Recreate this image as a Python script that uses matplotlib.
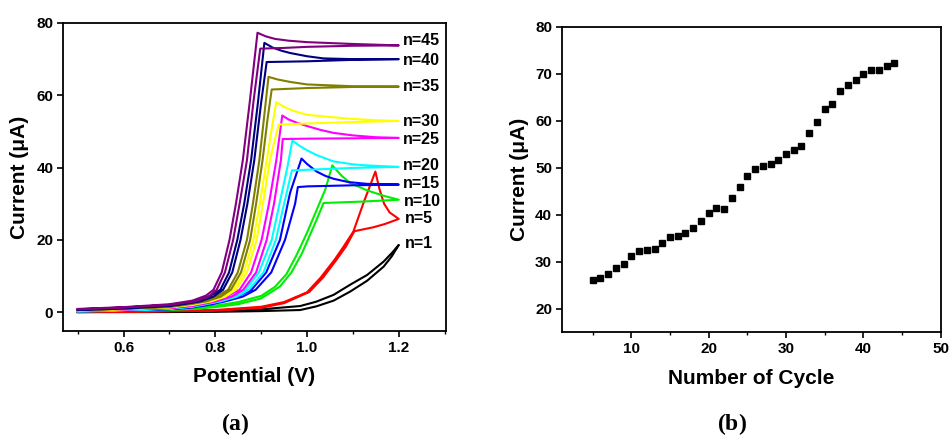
import numpy as np
import matplotlib.pyplot as plt

plt.rcParams['font.family'] = ['Liberation Sans', 'DejaVu Sans']
plt.rcParams['font.weight'] = 'bold'
plt.rcParams['mathtext.fontset'] = 'custom'
plt.rcParams['mathtext.rm'] = 'Liberation Serif'
plt.rcParams['mathtext.bf'] = 'Liberation Serif:bold'

# cyclic voltammograms, (potential V, current uA); fwd = anodic sweep, rev = return sweep
n1_fwd = [(0.50, 0.0), (0.70, 0.05), (0.80, 0.1), (0.90, 0.3), (0.985, 0.6), (1.02, 1.6),
          (1.058, 3.2), (1.094, 5.7), (1.131, 8.7), (1.167, 12.6), (1.185, 15.5), (1.20, 18.6)]
n1_rev = [(1.20, 18.6), (1.185, 16.4), (1.167, 14.0), (1.131, 10.3), (1.094, 7.6), (1.058, 4.8),
          (1.02, 2.9), (0.985, 1.7), (0.90, 0.8), (0.80, 0.4), (0.70, 0.2), (0.50, 0.1)]

n5_fwd = [(0.50, 0.1), (0.70, 0.3), (0.80, 0.6), (0.90, 1.5), (0.95, 2.8), (1.00, 5.5),
          (1.03, 9.6), (1.06, 14.5), (1.08, 18.2), (1.101, 22.3), (1.123, 30.2), (1.149, 38.9),
          (1.158, 34.0), (1.168, 30.0), (1.18, 27.6), (1.20, 25.8)]
n5_rev = [(1.20, 25.8), (1.17, 24.4), (1.145, 23.5), (1.103, 22.4), (1.085, 18.2), (1.063, 14.3),
          (1.035, 9.6), (1.005, 5.6), (0.95, 2.5), (0.90, 1.2), (0.80, 0.4), (0.50, 0.0)]

n10_fwd = [(0.50, 0.3), (0.70, 0.8), (0.75, 1.2), (0.80, 1.8), (0.85, 2.8), (0.90, 4.5), (0.93, 7.0),
           (0.955, 10.5), (0.978, 16.0), (1.00, 22.0), (1.02, 28.0), (1.04, 34.0), (1.055, 40.6),
           (1.075, 37.8), (1.094, 35.7), (1.131, 33.7), (1.167, 32.2), (1.20, 31.1)]
n10_rev = [(1.20, 31.1), (1.12, 30.6), (1.036, 30.2), (1.021, 25.6), (1.00, 19.5), (0.989, 16.3),
           (0.966, 11.0), (0.941, 7.1), (0.90, 3.8), (0.85, 2.2), (0.80, 1.4), (0.75, 0.9), (0.70, 0.6), (0.50, 0.2)]

n15_fwd = [(0.50, 0.3), (0.60, 0.5), (0.70, 0.9), (0.75, 1.5), (0.785, 2.3), (0.815, 3.2), (0.852, 4.6),
           (0.879, 6.2), (0.911, 11.0), (0.941, 20.0), (0.963, 33.0), (0.988, 42.5), (1.00, 41.0),
           (1.021, 38.9), (1.04, 37.7), (1.058, 36.9), (1.09, 36.0), (1.131, 35.5), (1.20, 35.3)]
n15_rev = [(1.20, 35.3), (1.10, 35.1), (1.00, 34.8), (0.980, 34.6), (0.974, 30.0), (0.952, 20.0),
           (0.922, 11.0), (0.888, 6.2), (0.860, 4.3), (0.822, 3.0), (0.79, 2.1), (0.75, 1.3),
           (0.70, 0.8), (0.60, 0.4), (0.50, 0.2)]

n20_fwd = [(0.50, 0.3), (0.60, 0.6), (0.70, 1.0), (0.75, 1.7), (0.778, 2.4), (0.805, 3.2), (0.840, 4.6),
           (0.866, 6.2), (0.895, 11.0), (0.923, 20.0), (0.940, 30.0), (0.957, 40.0), (0.968, 47.5),
           (0.985, 45.9), (1.00, 44.8), (1.02, 43.5), (1.058, 41.7), (1.10, 40.9), (1.131, 40.6), (1.20, 40.2)]
n20_rev = [(1.20, 40.2), (1.10, 39.9), (1.00, 39.4), (0.967, 39.2), (0.950, 30.0), (0.932, 20.0),
           (0.905, 11.0), (0.873, 6.2), (0.847, 4.3), (0.812, 3.0), (0.78, 2.2), (0.75, 1.5),
           (0.70, 0.9), (0.60, 0.5), (0.50, 0.2)]

n25_fwd = [(0.50, 0.4), (0.60, 0.8), (0.70, 1.2), (0.75, 1.9), (0.773, 2.5), (0.795, 3.2), (0.828, 4.6),
           (0.853, 6.2), (0.878, 11.0), (0.901, 20.0), (0.917, 30.0), (0.933, 42.0), (0.946, 54.4),
           (0.96, 53.3), (0.98, 52.3), (1.00, 51.5), (1.03, 50.4), (1.058, 49.6), (1.10, 48.9),
           (1.15, 48.4), (1.20, 48.2)]
n25_rev = [(1.20, 48.2), (1.00, 48.0), (0.947, 47.9), (0.943, 42.0), (0.928, 30.0), (0.912, 20.0),
           (0.889, 11.0), (0.861, 6.2), (0.836, 4.3), (0.802, 3.0), (0.775, 2.3), (0.75, 1.7),
           (0.70, 1.1), (0.60, 0.7), (0.50, 0.3)]

n30_fwd = [(0.50, 0.5), (0.60, 0.9), (0.70, 1.4), (0.75, 2.2), (0.785, 3.2), (0.816, 4.6),
           (0.839, 6.2), (0.862, 11.0), (0.883, 20.0), (0.897, 30.0), (0.912, 42.0), (0.922, 50.0),
           (0.933, 58.1), (0.95, 56.8), (0.97, 55.7), (1.00, 54.6), (1.05, 54.0), (1.094, 53.5),
           (1.15, 53.1), (1.20, 52.9)]
n30_rev = [(1.20, 52.9), (1.10, 52.6), (1.00, 52.2), (0.938, 51.9), (0.919, 42.0), (0.904, 30.0),
           (0.890, 20.0), (0.869, 11.0), (0.845, 6.2), (0.822, 4.3), (0.791, 3.0), (0.75, 2.0),
           (0.70, 1.3), (0.60, 0.8), (0.50, 0.4)]

n35_fwd = [(0.50, 0.6), (0.60, 1.0), (0.70, 1.6), (0.75, 2.5), (0.775, 3.2), (0.806, 4.6),
           (0.828, 6.2), (0.849, 11.0), (0.869, 20.0), (0.882, 30.0), (0.896, 42.0), (0.906, 53.5),
           (0.916, 65.1), (0.935, 64.4), (0.963, 63.7), (1.00, 63.0), (1.10, 62.5), (1.20, 62.4)]
n35_rev = [(1.20, 62.4), (1.10, 62.3), (1.00, 62.0), (0.923, 61.6), (0.914, 53.5), (0.903, 42.0),
           (0.889, 30.0), (0.876, 20.0), (0.856, 11.0), (0.834, 6.2), (0.812, 4.3), (0.781, 3.0),
           (0.75, 2.3), (0.70, 1.4), (0.60, 0.9), (0.50, 0.5)]

n40_fwd = [(0.50, 0.7), (0.60, 1.2), (0.70, 1.9), (0.735, 2.5), (0.762, 3.2), (0.790, 4.6),
           (0.811, 6.2), (0.830, 11.0), (0.848, 20.0), (0.863, 30.0), (0.878, 42.0), (0.893, 58.0),
           (0.907, 74.5), (0.925, 73.2), (0.945, 72.3), (0.963, 71.7), (1.00, 70.8), (1.036, 70.2),
           (1.10, 70.0), (1.20, 70.0)]
n40_rev = [(1.20, 70.0), (1.10, 69.8), (1.00, 69.4), (0.912, 69.2), (0.900, 58.0), (0.885, 42.0),
           (0.870, 30.0), (0.855, 20.0), (0.837, 11.0), (0.817, 6.2), (0.796, 4.3), (0.768, 3.0),
           (0.735, 2.3), (0.70, 1.7), (0.60, 1.0), (0.50, 0.6)]

n45_fwd = [(0.50, 0.9), (0.60, 1.4), (0.70, 2.2), (0.75, 3.2), (0.78, 4.6), (0.796, 6.2),
           (0.814, 11.0), (0.831, 20.0), (0.845, 30.0), (0.860, 42.0), (0.875, 58.0), (0.892, 77.3),
           (0.91, 76.3), (0.93, 75.6), (0.96, 75.1), (1.00, 74.7), (1.10, 74.2), (1.20, 73.8)]
n45_rev = [(1.20, 73.8), (1.10, 73.7), (1.00, 73.4), (0.95, 73.1), (0.898, 72.9), (0.883, 58.0),
           (0.869, 42.0), (0.853, 30.0), (0.839, 20.0), (0.821, 11.0), (0.803, 6.2), (0.786, 4.3),
           (0.756, 3.0), (0.70, 2.0), (0.60, 1.3), (0.50, 0.8)]

cycles = ['n=1', 'n=5', 'n=10', 'n=15', 'n=20', 'n=25', 'n=30', 'n=35', 'n=40', 'n=45']
curves = [(n1_fwd, n1_rev), (n5_fwd, n5_rev), (n10_fwd, n10_rev), (n15_fwd, n15_rev),
          (n20_fwd, n20_rev), (n25_fwd, n25_rev), (n30_fwd, n30_rev), (n35_fwd, n35_rev),
          (n40_fwd, n40_rev), (n45_fwd, n45_rev)]
colors = ['black', '#FF0000', '#00EE00', '#0000FF', '#00FFFF', '#FF00FF', '#FFFF00',
          '#808000', '#000080', '#800080']
label_y = [18.9, 25.8, 30.6, 35.5, 40.5, 47.7, 52.7, 62.3, 69.6, 75.2]
label_x = [1.214, 1.214, 1.212, 1.210, 1.210, 1.210, 1.210, 1.208, 1.208, 1.208]

# peak current vs cycle number
cycle_no = list(range(5, 45))
peak_current = [26.1, 26.5, 27.3, 28.6, 29.6, 31.3, 32.3, 32.4, 32.7, 34.0,
                35.3, 35.5, 36.2, 37.2, 38.7, 40.3, 41.4, 41.3, 43.6, 45.9,
                48.3, 49.8, 50.3, 50.7, 51.7, 52.9, 53.7, 54.6, 57.3, 59.7,
                62.4, 63.6, 66.3, 67.5, 68.7, 70.0, 70.7, 70.7, 71.6, 72.2]

fig = plt.figure(figsize=(9.5, 4.37), dpi=100)
ax1 = fig.add_axes([0.0663, 0.2426, 0.4032, 0.7048])
ax2 = fig.add_axes([0.5913, 0.2396, 0.3989, 0.6993])

for (fwd, rev), c in zip(curves, colors):
    pts = np.array(fwd + rev)
    ax1.plot(pts[:, 0], pts[:, 1], color=c, lw=1.5, solid_joinstyle='round')
for name, x, y in zip(cycles, label_x, label_y):
    ax1.text(x, y, name, fontsize=11.5, fontweight='bold', va='center', ha='left')

ax1.set_xlim(0.468, 1.303)
ax1.set_ylim(-5.2, 80)
ax1.set_xticks([0.6, 0.8, 1.0, 1.2])
ax1.set_xticks([0.5, 0.7, 0.9, 1.1, 1.3], minor=True)
ax1.set_yticks([0, 20, 40, 60, 80])
ax1.set_xlabel('Potential (V)', fontsize=15, fontweight='bold', labelpad=9)
ax1.set_ylabel('Current (μA)', fontsize=15, fontweight='bold', labelpad=5)

ax2.plot(cycle_no, peak_current, 's', color='black', ms=4)
ax2.set_xlim(1, 50)
ax2.set_ylim(15, 80)
ax2.set_xticks([10, 20, 30, 40, 50])
ax2.set_xticks([5, 15, 25, 35, 45], minor=True)
ax2.set_yticks([20, 30, 40, 50, 60, 70, 80])
ax2.set_xlabel('Number of Cycle', fontsize=15, fontweight='bold', labelpad=9)
ax2.set_ylabel('Current (μA)', fontsize=15, fontweight='bold', labelpad=4)

for ax in (ax1, ax2):
    for sp in ax.spines.values():
        sp.set_linewidth(1.3)
    ax.tick_params(which='major', direction='out', length=4, width=1.2, labelsize=11, pad=3)
    ax.tick_params(which='minor', direction='out', length=2.5, width=1.0)
    for lab in ax.get_xticklabels() + ax.get_yticklabels():
        lab.set_fontweight('bold')

fig.text(0.2474, 0.030, r'($\mathbf{a}$)', fontsize=17, ha='center', va='center',
         family='Liberation Serif')
fig.text(0.7702, 0.030, r'($\mathbf{b}$)', fontsize=17, ha='center', va='center',
         family='Liberation Serif')

fig.savefig('out.png', dpi=100)
